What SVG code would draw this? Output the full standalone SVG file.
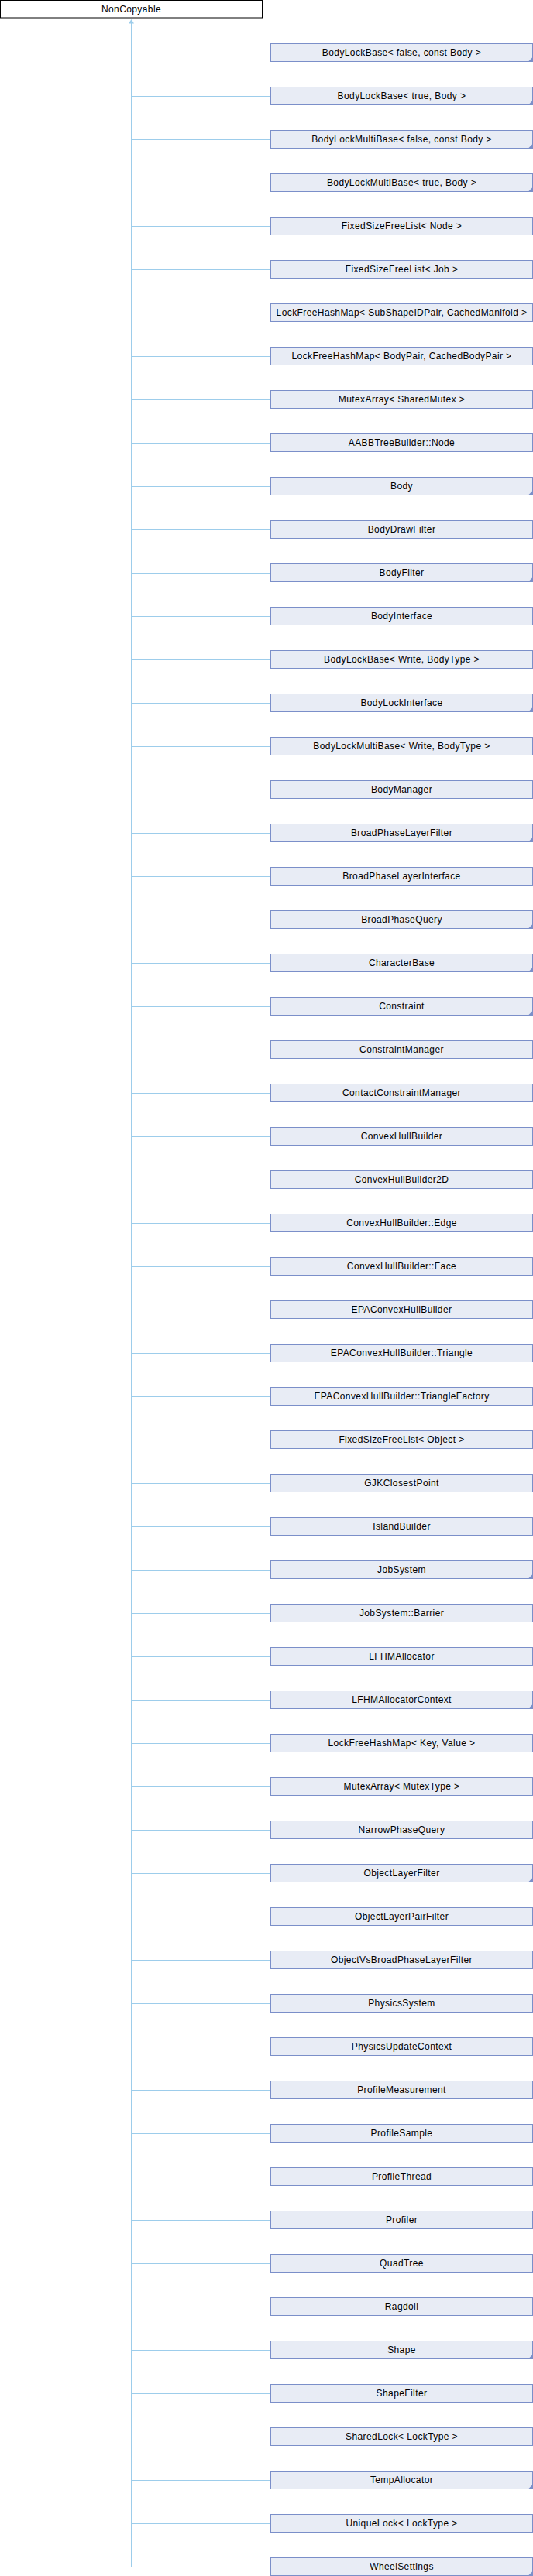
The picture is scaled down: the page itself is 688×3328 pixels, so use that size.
<svg xmlns="http://www.w3.org/2000/svg" width="688" height="3328" viewBox="0 0 688 3328">
<style>
text{font-family:"Liberation Sans",Arial,sans-serif;font-size:12px;letter-spacing:0.4px;text-anchor:middle;fill:#000}
.root{fill:#fff;stroke:#000;stroke-width:1}
.box{fill:#E8ECF5;stroke:#7B8FC9;stroke-width:1}
.more{fill:#7B8FC9}
.conn{fill:none;stroke:#9DCDEB;stroke-width:1}
</style>
<rect width="688" height="3328" fill="#fff"/>
<g id="connectors">
<path class="conn" d="M169.5 30V3316.5M169.5 68.5H349.5M169.5 124.5H349.5M169.5 180.5H349.5M169.5 236.5H349.5M169.5 292.5H349.5M169.5 348.5H349.5M169.5 404.5H349.5M169.5 460.5H349.5M169.5 516.5H349.5M169.5 572.5H349.5M169.5 628.5H349.5M169.5 684.5H349.5M169.5 740.5H349.5M169.5 796.5H349.5M169.5 852.5H349.5M169.5 908.5H349.5M169.5 964.5H349.5M169.5 1020.5H349.5M169.5 1076.5H349.5M169.5 1132.5H349.5M169.5 1188.5H349.5M169.5 1244.5H349.5M169.5 1300.5H349.5M169.5 1356.5H349.5M169.5 1412.5H349.5M169.5 1468.5H349.5M169.5 1524.5H349.5M169.5 1580.5H349.5M169.5 1636.5H349.5M169.5 1692.5H349.5M169.5 1748.5H349.5M169.5 1804.5H349.5M169.5 1860.5H349.5M169.5 1916.5H349.5M169.5 1972.5H349.5M169.5 2028.5H349.5M169.5 2084.5H349.5M169.5 2140.5H349.5M169.5 2196.5H349.5M169.5 2252.5H349.5M169.5 2308.5H349.5M169.5 2364.5H349.5M169.5 2420.5H349.5M169.5 2476.5H349.5M169.5 2532.5H349.5M169.5 2588.5H349.5M169.5 2644.5H349.5M169.5 2700.5H349.5M169.5 2756.5H349.5M169.5 2812.5H349.5M169.5 2868.5H349.5M169.5 2924.5H349.5M169.5 2980.5H349.5M169.5 3036.5H349.5M169.5 3092.5H349.5M169.5 3148.5H349.5M169.5 3204.5H349.5M169.5 3260.5H349.5M169.5 3316.5H349.5"/>
<polygon points="169.5,25 166,30.5 173,30.5" fill="#9DCDEB"/>
</g>
<g id="NonCopyable"><rect class="root" x="0.5" y="0.5" width="338" height="22.5"/><text x="169.5" y="15.5">NonCopyable</text></g>
<g id="n1" transform="translate(0,0)"><rect class="box" x="349.5" y="56.5" width="338" height="23"/><text x="518.5" y="72">BodyLockBase&lt; false, const Body &gt;</text><polygon class="more" points="681.5,80 688,80 688,73.5"/></g>
<g id="n2" transform="translate(0,56)"><rect class="box" x="349.5" y="56.5" width="338" height="23"/><text x="518.5" y="72">BodyLockBase&lt; true, Body &gt;</text><polygon class="more" points="681.5,80 688,80 688,73.5"/></g>
<g id="n3" transform="translate(0,112)"><rect class="box" x="349.5" y="56.5" width="338" height="23"/><text x="518.5" y="72">BodyLockMultiBase&lt; false, const Body &gt;</text><polygon class="more" points="681.5,80 688,80 688,73.5"/></g>
<g id="n4" transform="translate(0,168)"><rect class="box" x="349.5" y="56.5" width="338" height="23"/><text x="518.5" y="72">BodyLockMultiBase&lt; true, Body &gt;</text><polygon class="more" points="681.5,80 688,80 688,73.5"/></g>
<g id="n5" transform="translate(0,224)"><rect class="box" x="349.5" y="56.5" width="338" height="23"/><text x="518.5" y="72">FixedSizeFreeList&lt; Node &gt;</text></g>
<g id="n6" transform="translate(0,280)"><rect class="box" x="349.5" y="56.5" width="338" height="23"/><text x="518.5" y="72">FixedSizeFreeList&lt; Job &gt;</text></g>
<g id="n7" transform="translate(0,336)"><rect class="box" x="349.5" y="56.5" width="338" height="23"/><text x="518.5" y="72">LockFreeHashMap&lt; SubShapeIDPair, CachedManifold &gt;</text></g>
<g id="n8" transform="translate(0,392)"><rect class="box" x="349.5" y="56.5" width="338" height="23"/><text x="518.5" y="72">LockFreeHashMap&lt; BodyPair, CachedBodyPair &gt;</text></g>
<g id="n9" transform="translate(0,448)"><rect class="box" x="349.5" y="56.5" width="338" height="23"/><text x="518.5" y="72">MutexArray&lt; SharedMutex &gt;</text></g>
<g id="n10" transform="translate(0,504)"><rect class="box" x="349.5" y="56.5" width="338" height="23"/><text x="518.5" y="72">AABBTreeBuilder::Node</text></g>
<g id="n11" transform="translate(0,560)"><rect class="box" x="349.5" y="56.5" width="338" height="23"/><text x="518.5" y="72">Body</text><polygon class="more" points="681.5,80 688,80 688,73.5"/></g>
<g id="n12" transform="translate(0,616)"><rect class="box" x="349.5" y="56.5" width="338" height="23"/><text x="518.5" y="72">BodyDrawFilter</text></g>
<g id="n13" transform="translate(0,672)"><rect class="box" x="349.5" y="56.5" width="338" height="23"/><text x="518.5" y="72">BodyFilter</text><polygon class="more" points="681.5,80 688,80 688,73.5"/></g>
<g id="n14" transform="translate(0,728)"><rect class="box" x="349.5" y="56.5" width="338" height="23"/><text x="518.5" y="72">BodyInterface</text></g>
<g id="n15" transform="translate(0,784)"><rect class="box" x="349.5" y="56.5" width="338" height="23"/><text x="518.5" y="72">BodyLockBase&lt; Write, BodyType &gt;</text></g>
<g id="n16" transform="translate(0,840)"><rect class="box" x="349.5" y="56.5" width="338" height="23"/><text x="518.5" y="72">BodyLockInterface</text><polygon class="more" points="681.5,80 688,80 688,73.5"/></g>
<g id="n17" transform="translate(0,896)"><rect class="box" x="349.5" y="56.5" width="338" height="23"/><text x="518.5" y="72">BodyLockMultiBase&lt; Write, BodyType &gt;</text></g>
<g id="n18" transform="translate(0,952)"><rect class="box" x="349.5" y="56.5" width="338" height="23"/><text x="518.5" y="72">BodyManager</text></g>
<g id="n19" transform="translate(0,1008)"><rect class="box" x="349.5" y="56.5" width="338" height="23"/><text x="518.5" y="72">BroadPhaseLayerFilter</text><polygon class="more" points="681.5,80 688,80 688,73.5"/></g>
<g id="n20" transform="translate(0,1064)"><rect class="box" x="349.5" y="56.5" width="338" height="23"/><text x="518.5" y="72">BroadPhaseLayerInterface</text></g>
<g id="n21" transform="translate(0,1120)"><rect class="box" x="349.5" y="56.5" width="338" height="23"/><text x="518.5" y="72">BroadPhaseQuery</text><polygon class="more" points="681.5,80 688,80 688,73.5"/></g>
<g id="n22" transform="translate(0,1176)"><rect class="box" x="349.5" y="56.5" width="338" height="23"/><text x="518.5" y="72">CharacterBase</text><polygon class="more" points="681.5,80 688,80 688,73.5"/></g>
<g id="n23" transform="translate(0,1232)"><rect class="box" x="349.5" y="56.5" width="338" height="23"/><text x="518.5" y="72">Constraint</text><polygon class="more" points="681.5,80 688,80 688,73.5"/></g>
<g id="n24" transform="translate(0,1288)"><rect class="box" x="349.5" y="56.5" width="338" height="23"/><text x="518.5" y="72">ConstraintManager</text></g>
<g id="n25" transform="translate(0,1344)"><rect class="box" x="349.5" y="56.5" width="338" height="23"/><text x="518.5" y="72">ContactConstraintManager</text></g>
<g id="n26" transform="translate(0,1400)"><rect class="box" x="349.5" y="56.5" width="338" height="23"/><text x="518.5" y="72">ConvexHullBuilder</text></g>
<g id="n27" transform="translate(0,1456)"><rect class="box" x="349.5" y="56.5" width="338" height="23"/><text x="518.5" y="72">ConvexHullBuilder2D</text></g>
<g id="n28" transform="translate(0,1512)"><rect class="box" x="349.5" y="56.5" width="338" height="23"/><text x="518.5" y="72">ConvexHullBuilder::Edge</text></g>
<g id="n29" transform="translate(0,1568)"><rect class="box" x="349.5" y="56.5" width="338" height="23"/><text x="518.5" y="72">ConvexHullBuilder::Face</text></g>
<g id="n30" transform="translate(0,1624)"><rect class="box" x="349.5" y="56.5" width="338" height="23"/><text x="518.5" y="72">EPAConvexHullBuilder</text></g>
<g id="n31" transform="translate(0,1680)"><rect class="box" x="349.5" y="56.5" width="338" height="23"/><text x="518.5" y="72">EPAConvexHullBuilder::Triangle</text></g>
<g id="n32" transform="translate(0,1736)"><rect class="box" x="349.5" y="56.5" width="338" height="23"/><text x="518.5" y="72">EPAConvexHullBuilder::TriangleFactory</text></g>
<g id="n33" transform="translate(0,1792)"><rect class="box" x="349.5" y="56.5" width="338" height="23"/><text x="518.5" y="72">FixedSizeFreeList&lt; Object &gt;</text></g>
<g id="n34" transform="translate(0,1848)"><rect class="box" x="349.5" y="56.5" width="338" height="23"/><text x="518.5" y="72">GJKClosestPoint</text></g>
<g id="n35" transform="translate(0,1904)"><rect class="box" x="349.5" y="56.5" width="338" height="23"/><text x="518.5" y="72">IslandBuilder</text></g>
<g id="n36" transform="translate(0,1960)"><rect class="box" x="349.5" y="56.5" width="338" height="23"/><text x="518.5" y="72">JobSystem</text><polygon class="more" points="681.5,80 688,80 688,73.5"/></g>
<g id="n37" transform="translate(0,2016)"><rect class="box" x="349.5" y="56.5" width="338" height="23"/><text x="518.5" y="72">JobSystem::Barrier</text></g>
<g id="n38" transform="translate(0,2072)"><rect class="box" x="349.5" y="56.5" width="338" height="23"/><text x="518.5" y="72">LFHMAllocator</text></g>
<g id="n39" transform="translate(0,2128)"><rect class="box" x="349.5" y="56.5" width="338" height="23"/><text x="518.5" y="72">LFHMAllocatorContext</text><polygon class="more" points="681.5,80 688,80 688,73.5"/></g>
<g id="n40" transform="translate(0,2184)"><rect class="box" x="349.5" y="56.5" width="338" height="23"/><text x="518.5" y="72">LockFreeHashMap&lt; Key, Value &gt;</text></g>
<g id="n41" transform="translate(0,2240)"><rect class="box" x="349.5" y="56.5" width="338" height="23"/><text x="518.5" y="72">MutexArray&lt; MutexType &gt;</text></g>
<g id="n42" transform="translate(0,2296)"><rect class="box" x="349.5" y="56.5" width="338" height="23"/><text x="518.5" y="72">NarrowPhaseQuery</text></g>
<g id="n43" transform="translate(0,2352)"><rect class="box" x="349.5" y="56.5" width="338" height="23"/><text x="518.5" y="72">ObjectLayerFilter</text><polygon class="more" points="681.5,80 688,80 688,73.5"/></g>
<g id="n44" transform="translate(0,2408)"><rect class="box" x="349.5" y="56.5" width="338" height="23"/><text x="518.5" y="72">ObjectLayerPairFilter</text></g>
<g id="n45" transform="translate(0,2464)"><rect class="box" x="349.5" y="56.5" width="338" height="23"/><text x="518.5" y="72">ObjectVsBroadPhaseLayerFilter</text></g>
<g id="n46" transform="translate(0,2520)"><rect class="box" x="349.5" y="56.5" width="338" height="23"/><text x="518.5" y="72">PhysicsSystem</text></g>
<g id="n47" transform="translate(0,2576)"><rect class="box" x="349.5" y="56.5" width="338" height="23"/><text x="518.5" y="72">PhysicsUpdateContext</text></g>
<g id="n48" transform="translate(0,2632)"><rect class="box" x="349.5" y="56.5" width="338" height="23"/><text x="518.5" y="72">ProfileMeasurement</text></g>
<g id="n49" transform="translate(0,2688)"><rect class="box" x="349.5" y="56.5" width="338" height="23"/><text x="518.5" y="72">ProfileSample</text></g>
<g id="n50" transform="translate(0,2744)"><rect class="box" x="349.5" y="56.5" width="338" height="23"/><text x="518.5" y="72">ProfileThread</text></g>
<g id="n51" transform="translate(0,2800)"><rect class="box" x="349.5" y="56.5" width="338" height="23"/><text x="518.5" y="72">Profiler</text></g>
<g id="n52" transform="translate(0,2856)"><rect class="box" x="349.5" y="56.5" width="338" height="23"/><text x="518.5" y="72">QuadTree</text></g>
<g id="n53" transform="translate(0,2912)"><rect class="box" x="349.5" y="56.5" width="338" height="23"/><text x="518.5" y="72">Ragdoll</text></g>
<g id="n54" transform="translate(0,2968)"><rect class="box" x="349.5" y="56.5" width="338" height="23"/><text x="518.5" y="72">Shape</text><polygon class="more" points="681.5,80 688,80 688,73.5"/></g>
<g id="n55" transform="translate(0,3024)"><rect class="box" x="349.5" y="56.5" width="338" height="23"/><text x="518.5" y="72">ShapeFilter</text></g>
<g id="n56" transform="translate(0,3080)"><rect class="box" x="349.5" y="56.5" width="338" height="23"/><text x="518.5" y="72">SharedLock&lt; LockType &gt;</text></g>
<g id="n57" transform="translate(0,3136)"><rect class="box" x="349.5" y="56.5" width="338" height="23"/><text x="518.5" y="72">TempAllocator</text><polygon class="more" points="681.5,80 688,80 688,73.5"/></g>
<g id="n58" transform="translate(0,3192)"><rect class="box" x="349.5" y="56.5" width="338" height="23"/><text x="518.5" y="72">UniqueLock&lt; LockType &gt;</text></g>
<g id="n59" transform="translate(0,3248)"><rect class="box" x="349.5" y="56.5" width="338" height="23"/><text x="518.5" y="72">WheelSettings</text><polygon class="more" points="681.5,80 688,80 688,73.5"/></g>
</svg>
